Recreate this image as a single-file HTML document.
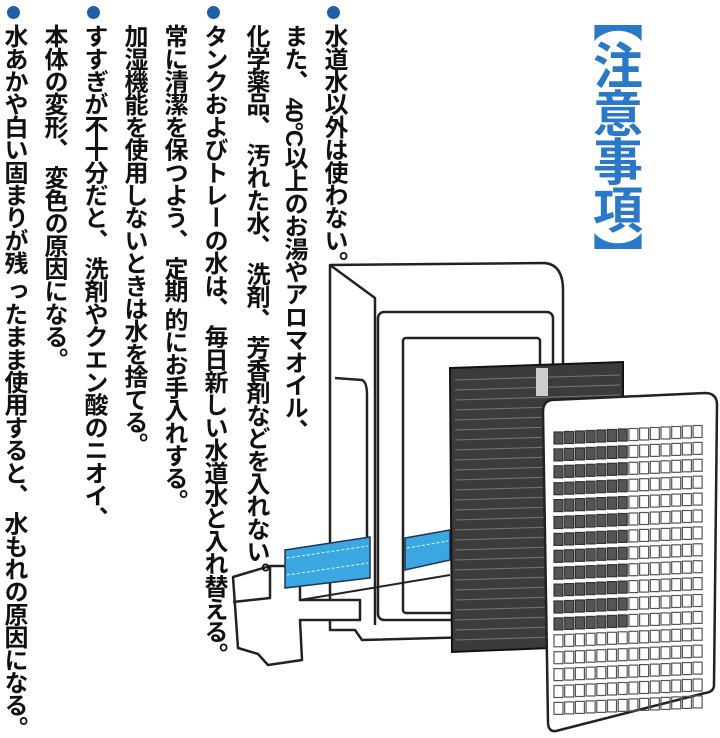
<!DOCTYPE html>
<html><head><meta charset="utf-8"><style>
html,body{margin:0;padding:0;background:#fff;}
body{width:720px;height:733px;position:relative;overflow:hidden;}
.c{position:absolute;writing-mode:vertical-rl;font-family:"Liberation Sans","Noto Sans CJK JP",sans-serif;font-weight:bold;font-size:24px;letter-spacing:-1.3px;line-height:27px;color:#111;white-space:pre;top:24px;}
.b{position:absolute;width:13px;height:13px;border-radius:50%;background:#1f5fa8;top:6px;}
.t{position:absolute;writing-mode:vertical-rl;font-family:"Liberation Sans","Noto Sans CJK JP",sans-serif;font-weight:bold;font-size:50px;line-height:54px;color:#2a78c8;left:587px;top:-8px;letter-spacing:-2px;}
svg{position:absolute;left:0;top:0;}
</style></head><body>
<svg width="720" height="733" viewBox="0 0 720 733">
<g fill="#fff" stroke="#222" stroke-width="2.5" stroke-linejoin="round">
<path d="M330 265 L545 263 Q563 265 563 290 L563 618 L553 624 L553 635 L362 640 L355 630 L330 630 Z"/>
<path d="M330 265 L375 298 L375 625" fill="none"/>
<rect x="378" y="312" width="175" height="308" rx="6"/>
<rect x="403" y="338" width="137" height="275" rx="3"/>
<path d="M335 378 L362 380 Q367 382 367 395 L367 540" fill="none"/>
<path d="M233 577 L270 566 L290 566 L300 580 L300 600 L360 600 L360 620 L300 620 L302 660 L268 665 L258 654 L238 648 Z"/>
<path d="M270 566 L270 598 L233 602" fill="none"/>
<path d="M300 600 L450 575" fill="none" stroke-width="2"/>
</g>
<path d="M285 550 L370 537 L370 578 L285 588 Z" fill="#3aa7e0" stroke="#235" stroke-width="1.5"/>
<path d="M405 538 L450 530 L450 560 L405 570 Z" fill="#3aa7e0" stroke="#235" stroke-width="1.5"/>
<g stroke="#dff" stroke-width="1" stroke-dasharray="3 2"><line x1="287" y1="558" x2="368" y2="546"/><line x1="287" y1="575" x2="368" y2="563"/><line x1="407" y1="548" x2="448" y2="541"/></g>
<path d="M450 368 L623 362 L623 645 L452 652 Z" fill="#3b3b3b" stroke="#111" stroke-width="2"/>
<g stroke="#777" stroke-width="1">
<line x1="455" y1="380" x2="620" y2="375"/><line x1="455" y1="390" x2="620" y2="385"/><line x1="455" y1="400" x2="620" y2="395"/><line x1="455" y1="410" x2="620" y2="405"/><line x1="455" y1="420" x2="620" y2="415"/><line x1="455" y1="430" x2="620" y2="425"/><line x1="455" y1="440" x2="620" y2="435"/><line x1="455" y1="450" x2="620" y2="445"/><line x1="455" y1="460" x2="620" y2="455"/><line x1="455" y1="470" x2="620" y2="465"/><line x1="455" y1="480" x2="620" y2="475"/><line x1="455" y1="490" x2="620" y2="485"/><line x1="455" y1="500" x2="620" y2="495"/><line x1="455" y1="510" x2="620" y2="505"/><line x1="455" y1="520" x2="620" y2="515"/><line x1="455" y1="530" x2="620" y2="525"/><line x1="455" y1="540" x2="620" y2="535"/><line x1="455" y1="550" x2="620" y2="545"/><line x1="455" y1="560" x2="620" y2="555"/><line x1="455" y1="570" x2="620" y2="565"/><line x1="455" y1="580" x2="620" y2="575"/><line x1="455" y1="590" x2="620" y2="585"/><line x1="455" y1="600" x2="620" y2="595"/><line x1="455" y1="610" x2="620" y2="605"/><line x1="455" y1="620" x2="620" y2="615"/><line x1="455" y1="630" x2="620" y2="625"/><line x1="455" y1="640" x2="620" y2="635"/>
</g>
<rect x="536" y="368" width="12" height="28" fill="#ccc"/>
<path d="M552 400 L705 393 Q717 393 717 405 L714 685 Q714 692 705 693 L556 731 Q548 732 548 722 L543 412 Q543 401 552 400 Z" fill="#fff" stroke="#222" stroke-width="2.5"/>
<g id="grid" fill="none" stroke="#555" stroke-width="1.2"></g>
</svg>
<div class="t">【注意事項】</div>
<div class="b" style="left:327px"></div>
<div class="b" style="left:207px"></div>
<div class="b" style="left:87px"></div>
<div class="b" style="left:7px"></div>
<div class="c" style="left:320px">水道水以外は使わない。</div>
<div class="c" style="left:280px">また、 40°C以上のお湯やアロマオイル、</div>
<div class="c" style="left:242px">化学薬品、 汚れた水、 洗剤、 芳香剤などを入れない。</div>
<div class="c" style="left:200px">タンクおよびトレーの水は、 毎日新しい水道水と入れ替える。</div>
<div class="c" style="left:160px">常に清潔を保つよう、 定期 的にお手入れする。</div>
<div class="c" style="left:120px">加湿機能を使用しないときは水を捨てる。</div>
<div class="c" style="left:80px">すすぎが不十分だと、 洗剤やクエン酸のニオイ、</div>
<div class="c" style="left:40px">本体の変形、 変色の原因になる。</div>
<div class="c" style="left:0px">水あかや白い固まりが残 ったまま使用すると、 水もれの原因になる。</div>
<script>
var g=document.getElementById('grid'),s='';
for(var r=0;r<17;r++)for(var c=0;c<14;c++){
var x=554+c*10.7,y=432+r*16.9-c*0.5;
var dark=(c<7&&r<12);
if(dark)s+='<rect x="'+x+'" y="'+y+'" width="9" height="12" fill="#555" stroke="#333"/>';
else s+='<rect x="'+x+'" y="'+y+'" width="9" height="12"/>';}
g.innerHTML=s;
</script>
</body></html>
